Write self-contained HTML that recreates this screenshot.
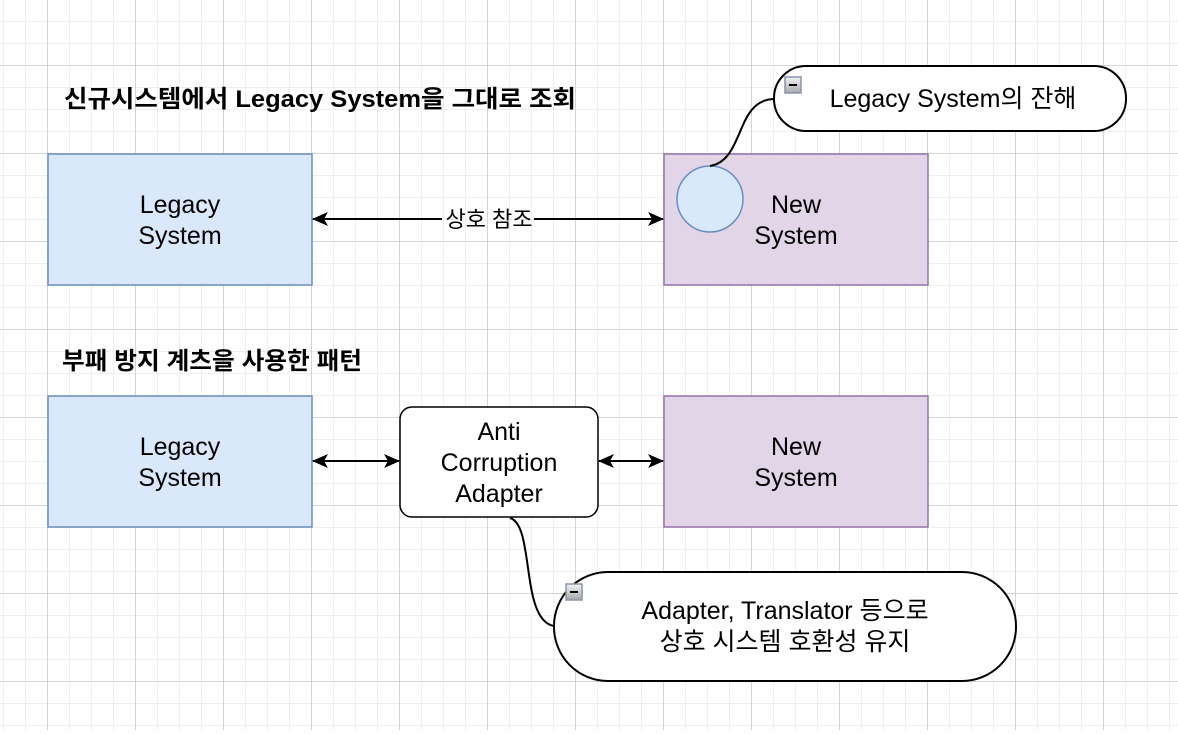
<!DOCTYPE html>
<html><head><meta charset="utf-8"><style>
body{margin:0;width:1178px;height:730px;overflow:hidden;background:#fff}
svg text{font-family:"Liberation Sans","Noto Sans CJK KR",sans-serif;fill:#000}
</style></head><body>
<svg width="1178" height="730" viewBox="0 0 1178 730">
<defs>
<pattern id="mi" x="3" y="-1" width="22" height="22" patternUnits="userSpaceOnUse"><path d="M0 0.5H22M0.5 0V22" stroke="#efefef" stroke-width="1" fill="none"/></pattern>
<pattern id="ma" x="47" y="65" width="88" height="88" patternUnits="userSpaceOnUse"><path d="M0 0.5H88M0.5 0V88" stroke="#d4d4d4" stroke-width="1" fill="none"/></pattern>
<marker id="ar" viewBox="0 0 16 14" refX="15" refY="7" markerWidth="16" markerHeight="14" markerUnits="userSpaceOnUse" orient="auto-start-reverse"><path d="M0 0L16 7L0 14L4 7Z" fill="#000"/></marker>
<linearGradient id="g" x1="0" y1="0" x2="0" y2="1"><stop offset="0" stop-color="#f4f4f4"/><stop offset="1" stop-color="#a8a8a8"/></linearGradient>
</defs>
<rect width="1178" height="730" fill="url(#mi)"/>
<rect width="1178" height="730" fill="url(#ma)"/>

<text x="64" y="107" font-size="24" font-weight="bold" textLength="512" lengthAdjust="spacingAndGlyphs">신규시스템에서 Legacy System을 그대로 조회</text>
<text x="62" y="369" font-size="24" font-weight="bold" textLength="300" lengthAdjust="spacingAndGlyphs">부패 방지 계츠을 사용한 패턴</text>

<rect x="48" y="154" width="264" height="131" fill="#dae8fc" stroke="#6c8ebf" stroke-width="1.5"/>
<text x="180" y="213" font-size="25" text-anchor="middle">Legacy</text>
<text x="180" y="244" font-size="25" text-anchor="middle">System</text>

<rect x="664" y="154" width="264" height="131" fill="#e1d5e7" stroke="#9673a6" stroke-width="1.5"/>
<text x="796" y="213" font-size="25" text-anchor="middle">New</text>
<text x="796" y="244" font-size="25" text-anchor="middle">System</text>
<circle cx="710" cy="199" r="33" fill="#dae8fc" stroke="#6c8ebf" stroke-width="1.5"/>

<line x1="313" y1="219" x2="442" y2="219" stroke="#000" stroke-width="2" marker-start="url(#ar)"/>
<line x1="534" y1="219" x2="663" y2="219" stroke="#000" stroke-width="2" marker-end="url(#ar)"/>
<text x="489" y="227" font-size="22" text-anchor="middle">상호 참조</text>

<path d="M710 166C745 160 735 100 774 99" stroke="#000" stroke-width="2" fill="none"/>
<rect x="774" y="66" width="352" height="65" rx="32" fill="#fff" stroke="#000" stroke-width="2"/>
<rect x="785" y="77" width="16" height="16" fill="url(#g)" stroke="#8a94a8" stroke-width="1.5"/>
<rect x="789" y="84" width="8" height="2" fill="#000"/>
<text x="953" y="107" font-size="25" text-anchor="middle">Legacy System의 잔해</text>

<rect x="48" y="396" width="264" height="131" fill="#dae8fc" stroke="#6c8ebf" stroke-width="1.5"/>
<text x="180" y="455" font-size="25" text-anchor="middle">Legacy</text>
<text x="180" y="486" font-size="25" text-anchor="middle">System</text>

<rect x="664" y="396" width="264" height="131" fill="#e1d5e7" stroke="#9673a6" stroke-width="1.5"/>
<text x="796" y="455" font-size="25" text-anchor="middle">New</text>
<text x="796" y="486" font-size="25" text-anchor="middle">System</text>

<rect x="400" y="407" width="198" height="110" rx="12" fill="#fff" stroke="#000" stroke-width="1.5"/>
<text x="499" y="440" font-size="25" text-anchor="middle">Anti</text>
<text x="499" y="471" font-size="25" text-anchor="middle">Corruption</text>
<text x="499" y="502" font-size="25" text-anchor="middle">Adapter</text>

<line x1="313" y1="461" x2="399" y2="461" stroke="#000" stroke-width="2" marker-start="url(#ar)" marker-end="url(#ar)"/>
<line x1="599" y1="461" x2="663" y2="461" stroke="#000" stroke-width="2" marker-start="url(#ar)" marker-end="url(#ar)"/>

<path d="M510 518C535 525 520 620 554 626" stroke="#000" stroke-width="2" fill="none"/>
<rect x="554" y="572" width="462" height="109" rx="54" fill="#fff" stroke="#000" stroke-width="2"/>
<rect x="566" y="584" width="16" height="16" fill="url(#g)" stroke="#8a94a8" stroke-width="1.5"/>
<rect x="570" y="591" width="8" height="2" fill="#000"/>
<text x="785" y="619" font-size="25" text-anchor="middle">Adapter, Translator 등으로</text>
<text x="785" y="650" font-size="25" text-anchor="middle">상호 시스템 호환성 유지</text>
</svg>
</body></html>
